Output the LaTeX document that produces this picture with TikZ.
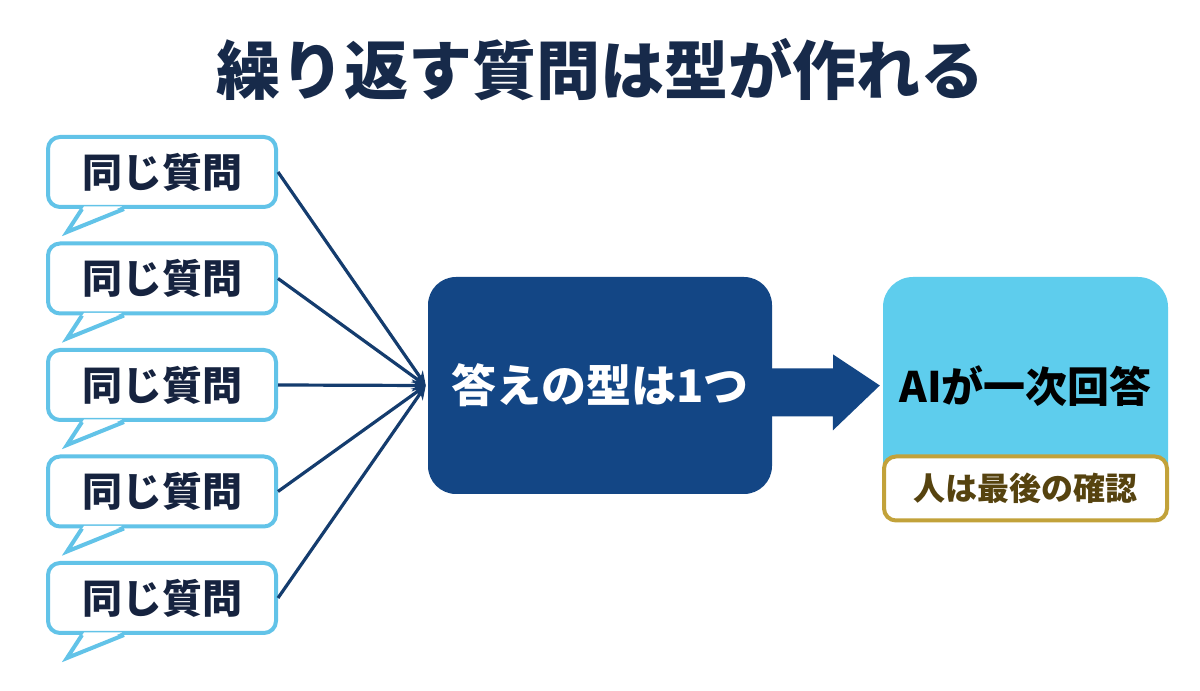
\documentclass[tikz,border=0pt]{standalone}
\usepackage{fontspec}
\setmainfont{Noto Sans CJK JP}
\usetikzlibrary{calc,arrows.meta}
\definecolor{bubbleblue}{HTML}{62C3E8}
\definecolor{navytext}{HTML}{16233F}
\definecolor{linenavy}{HTML}{143C6E}
\definecolor{boxnavy}{HTML}{134685}
\definecolor{skyfill}{HTML}{5ECDED}
\definecolor{goldline}{HTML}{C2A23A}
\definecolor{browntext}{HTML}{56430F}
\definecolor{titlenavy}{HTML}{172A4A}
\tikzset{
  bubble/.style={draw=bubbleblue, line width=4pt, fill=white, rounded corners=12pt,
    minimum width=228pt, minimum height=70pt, inner sep=0pt,
    text=navytext, font=\fontsize{40}{48}\selectfont\bfseries},
  feed/.style={draw=linenavy, line width=3.2pt, -{Stealth[length=14pt,width=12pt]}},
  mainbox/.style={fill=boxnavy, rounded corners=28pt, minimum width=344pt, minimum height=217pt,
    inner sep=0pt, text=white, font=\fontsize{45}{52}\selectfont\bfseries},
  aibox/.style={fill=skyfill, rounded corners=30pt, minimum width=285pt, minimum height=245pt, inner sep=0pt},
  checkbox/.style={draw=goldline, line width=4pt, fill=white, rounded corners=12pt,
    minimum width=283pt, minimum height=64pt, inner sep=0pt,
    text=browntext, font=\fontsize{32}{38}\selectfont\bfseries}
}
\begin{document}
\begin{tikzpicture}[x=1pt,y=1pt]
\useasboundingbox[fill=white] (0,0) rectangle (1200,691);
\node[text=titlenavy, font=\fontsize{64}{72}\selectfont\bfseries] (title) at (600,621) {繰り返す質問は型が作れる};
\node[mainbox] (c) at (600,305.5) {答えの型は1つ};
\foreach \i/\yc in {1/519, 2/412.5, 3/306, 4/199.5, 5/93} {
  \node[bubble] (q\i) at (162,\yc) {同じ質問};
  \fill[white] ($(q\i.south west)+(38,2.5)$) -- ($(q\i.south west)+(21,-23)$) -- ($(q\i.south west)+(76,2.5)$) -- cycle;
  \draw[bubbleblue, line width=4pt, line join=miter] ($(q\i.south west)+(36,0)$) -- ($(q\i.south west)+(21,-23)$) -- ($(q\i.south west)+(78,0)$);
  \draw[feed] (q\i.east) -- ($(c.west)+(-2,0)$);
}
\node[aibox] (r) at (1025.5,291.5) {};
\node[font=\fontsize{42}{50}\selectfont\bfseries, text=black] (ai) at (1025.5,305) {AIが一次回答};
\node[checkbox] (chk) at (1025.5,202.5) {人は最後の確認};
\fill[boxnavy] (c.east) ++(0,17) -- ++(61,0) -- ++(0,14) -- ($(r.west)+(-3,14)$) coordinate (tip) -- ++(-47,-45) -- ++(0,14) -- ++(-61,0) -- cycle;
\end{tikzpicture}
\end{document}
